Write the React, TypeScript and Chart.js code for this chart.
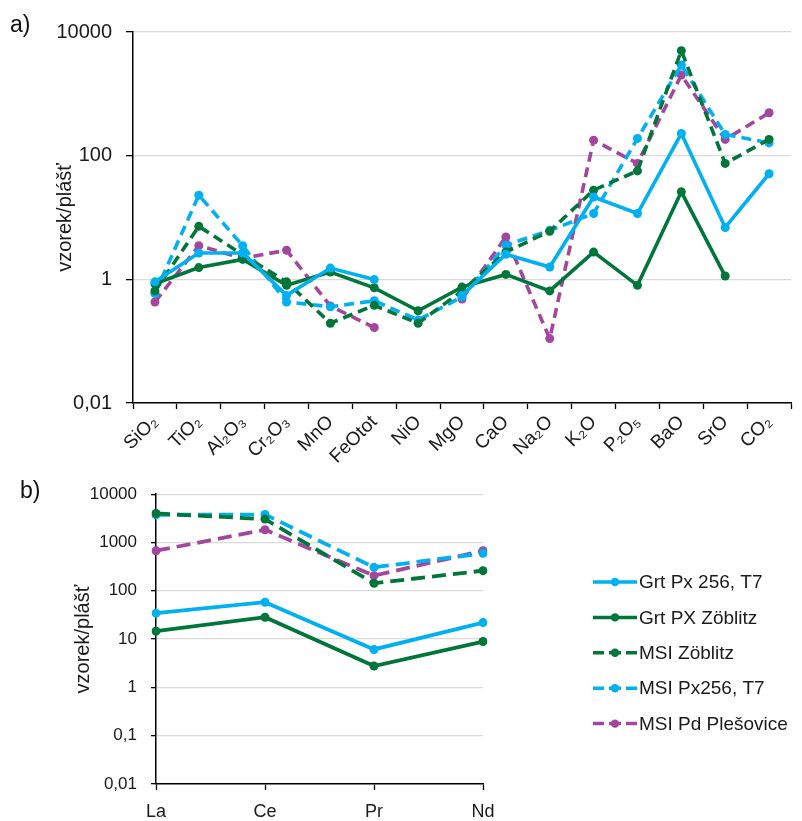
import React, { useEffect, useRef } from 'react';
import { Chart, registerables } from 'chart.js';
Chart.register(...registerables);

const FONT = "'Liberation Sans', Arial, 'DejaVu Sans', sans-serif";

// ---- Panel a) major oxides ----
const majorCategories = ['SiO₂', 'TiO₂', 'Al₂O₃', 'Cr₂O₃', 'MnO', 'FeOtot', 'NiO', 'MgO', 'CaO', 'Na₂O', 'K₂O', 'P₂O₅', 'BaO', 'SrO', 'CO₂'];
const majorGrtPx256 = [0.91, 2.67, 2.67, 0.55, 1.52, 0.99, null, 0.55, 2.54, 1.58, 21.5, 11.6, 228, 6.9, 51];
const majorGrtPxZoblitz = [0.85, 1.55, 2.1, 0.8, 1.31, 0.73, 0.31, 0.75, 1.2, 0.65, 2.76, 0.8, 26, 1.13, null];
const majorMsiZoblitz = [0.65, 7.2, 2.5, 0.91, 0.195, 0.38, 0.195, 0.65, 2.76, 6.0, 27.7, 56.7, 4990, 75, 183];
const majorMsiPx256 = [0.59, 23, 3.5, 0.43, 0.36, 0.45, 0.22, 0.52, 3.55, 6.2, 11.6, 190, 2920, 220, 161];
const majorMsiPlesovice = [0.43, 3.5, 2.2, 2.95, 0.37, 0.166, null, 0.48, 4.84, 0.11, 178, 75, 2010, 183, 494];
const majorTicks = [0.01, 1, 100, 10000];

// ---- Panel b) REE ----
const reeCategories = ['La', 'Ce', 'Pr', 'Nd'];
const reeGrtPx256 = [34.4, 58, 6.1, 22];
const reeGrtPxZoblitz = [14.6, 28.4, 2.77, 8.9];
const reeMsiZoblitz = [3990, 3050, 143, 261];
const reeMsiPx256 = [3740, 3800, 306, 596];
const reeMsiPlesovice = [676, 1836, 206, 676];
const reeTicks = [0.01, 0.1, 1, 10, 100, 1000, 10000];

const seriesNames = ['Grt Px 256, T7', 'Grt PX Zöblitz', 'MSI Zöblitz', 'MSI Px256, T7', 'MSI Pd Plešovice'];
const seriesColors = ['#00B0F0', '#00763A', '#00763A', '#00B0F0', '#A3469D'];
const seriesDashed = [false, false, true, true, true];

const fmt = (v: number) => String(v).replace('.', ',');

function makeDatasets(values: (number | null)[][], lw: number, dash: number[], r: number) {
  return values.map((d, i) => ({
    label: seriesNames[i],
    data: d,
    borderColor: seriesColors[i],
    backgroundColor: seriesColors[i],
    pointBackgroundColor: seriesColors[i],
    pointBorderWidth: 0,
    pointRadius: r,
    borderWidth: lw,
    borderDash: seriesDashed[i] ? dash : [],
    tension: 0,
    spanGaps: false,
  }));
}

const panelLabel = (text: string, x: number, y: number) => ({
  id: 'panelLabel' + text,
  afterDraw(chart: any) {
    const ctx = chart.ctx;
    ctx.save();
    ctx.font = `23px ${FONT}`;
    ctx.fillStyle = '#111';
    ctx.textBaseline = 'alphabetic';
    ctx.fillText(text, x, y);
    ctx.restore();
  },
});

const legendPlugin = {
  id: 'customLegend',
  afterDraw(chart: any) {
    const ctx = chart.ctx;
    ctx.save();
    chart.data.datasets.forEach((ds: any, i: number) => {
      const y = 112 + i * 35.4;
      const x0 = 593, x1 = 637, xm = 615;
      ctx.strokeStyle = ds.borderColor;
      ctx.lineWidth = 3.5;
      ctx.lineCap = 'butt';
      ctx.setLineDash([]);
      ctx.beginPath();
      if (seriesDashed[i]) {
        ctx.moveTo(x0, y); ctx.lineTo(x0 + 11, y);
        ctx.moveTo(x1 - 11, y); ctx.lineTo(x1, y);
        ctx.moveTo(xm - 6, y); ctx.lineTo(xm + 6, y);
      } else {
        ctx.moveTo(x0, y); ctx.lineTo(x1, y);
      }
      ctx.stroke();
      ctx.fillStyle = ds.borderColor;
      ctx.beginPath();
      ctx.arc(xm, y, 4.2, 0, Math.PI * 2);
      ctx.fill();
      ctx.fillStyle = '#1a1a1a';
      ctx.font = `19px ${FONT}`;
      ctx.textBaseline = 'middle';
      ctx.textAlign = 'left';
      ctx.fillText(ds.label, 639, y + 1);
    });
    ctx.restore();
  },
};

function ChartCanvas({ config, width, height, top }: { config: any; width: number; height: number; top: number }) {
  const ref = useRef<HTMLCanvasElement>(null);
  useEffect(() => {
    const chart = new Chart(ref.current as HTMLCanvasElement, config);
    return () => chart.destroy();
  }, []);
  return (
    <div style={{ position: 'absolute', left: 0, top, width, height }}>
      <canvas ref={ref} />
    </div>
  );
}

const topConfig = {
  type: 'line',
  data: {
    labels: majorCategories,
    datasets: makeDatasets([majorGrtPx256, majorGrtPxZoblitz, majorMsiZoblitz, majorMsiPx256, majorMsiPlesovice], 3.6, [10, 6], 4.5),
  },
  options: {
    animation: false,
    responsive: true,
    maintainAspectRatio: false,
    layout: { padding: { top: 32, right: 11, left: 0, bottom: 0 } },
    plugins: { legend: { display: false }, tooltip: { enabled: false } },
    scales: {
      x: {
        offset: true,
        grid: { offset: true, drawOnChartArea: false, tickLength: 6, tickColor: '#000', tickWidth: 1.3 },
        border: { color: '#000', width: 1.5 },
        ticks: { autoSkip: false, minRotation: 45, maxRotation: 45, color: '#1a1a1a', font: { family: FONT, size: 19 }, padding: 2 },
        afterFit: (s: any) => { s.height = 67; },
      },
      y: {
        type: 'logarithmic',
        min: 0.01,
        max: 10000,
        afterBuildTicks: (s: any) => { s.ticks = majorTicks.map((v) => ({ value: v })); },
        afterFit: (s: any) => { s.width = 133; },
        grid: { color: '#d9d9d9', lineWidth: 1.3, tickLength: 7, tickColor: '#000' },
        border: { color: '#000', width: 1.5 },
        ticks: { color: '#1a1a1a', font: { family: FONT, size: 20 }, padding: 14, callback: (v: number) => fmt(v) },
        title: { display: true, text: 'vzorek/plášť', color: '#1a1a1a', font: { family: FONT, size: 20 }, padding: { top: 53, bottom: 0 } },
      },
    },
  },
  plugins: [panelLabel('a)', 10, 32)],
};

const bottomConfig = {
  type: 'line',
  data: {
    labels: reeCategories,
    datasets: makeDatasets([reeGrtPx256, reeGrtPxZoblitz, reeMsiZoblitz, reeMsiPx256, reeMsiPlesovice], 3.8, [14, 7], 4.5),
  },
  options: {
    animation: false,
    responsive: true,
    maintainAspectRatio: false,
    layout: { padding: { top: 23, right: 319, left: 0, bottom: 0 } },
    plugins: { legend: { display: false }, tooltip: { enabled: false } },
    scales: {
      x: {
        offset: false,
        grid: { drawOnChartArea: false, tickLength: 6, tickColor: '#000', tickWidth: 1.3 },
        border: { color: '#000', width: 1.5 },
        ticks: { autoSkip: false, maxRotation: 0, color: '#1a1a1a', font: { family: FONT, size: 18 }, padding: 11 },
        afterFit: (s: any) => { s.height = 37; },
      },
      y: {
        type: 'logarithmic',
        min: 0.01,
        max: 10000,
        afterBuildTicks: (s: any) => { s.ticks = reeTicks.map((v) => ({ value: v })); },
        afterFit: (s: any) => { s.width = 156; },
        grid: { color: '#d9d9d9', lineWidth: 1.3, tickLength: 5, tickColor: '#000' },
        border: { color: '#000', width: 1.5 },
        ticks: { color: '#1a1a1a', font: { family: FONT, size: 17 }, padding: 14, callback: (v: number) => fmt(v) },
        title: { display: true, text: 'vzorek/plášť', color: '#1a1a1a', font: { family: FONT, size: 20 }, padding: { top: 71, bottom: 0 } },
      },
    },
  },
  plugins: [panelLabel('b)', 20, 28), legendPlugin],
};

export default function App() {
  return (
    <div style={{ position: 'absolute', left: 0, top: 0, width: 802, height: 821, overflow: 'hidden', background: '#fff' }}>
      <ChartCanvas config={topConfig} width={802} height={470} top={0} />
      <ChartCanvas config={bottomConfig} width={802} height={351} top={470} />
    </div>
  );
}
